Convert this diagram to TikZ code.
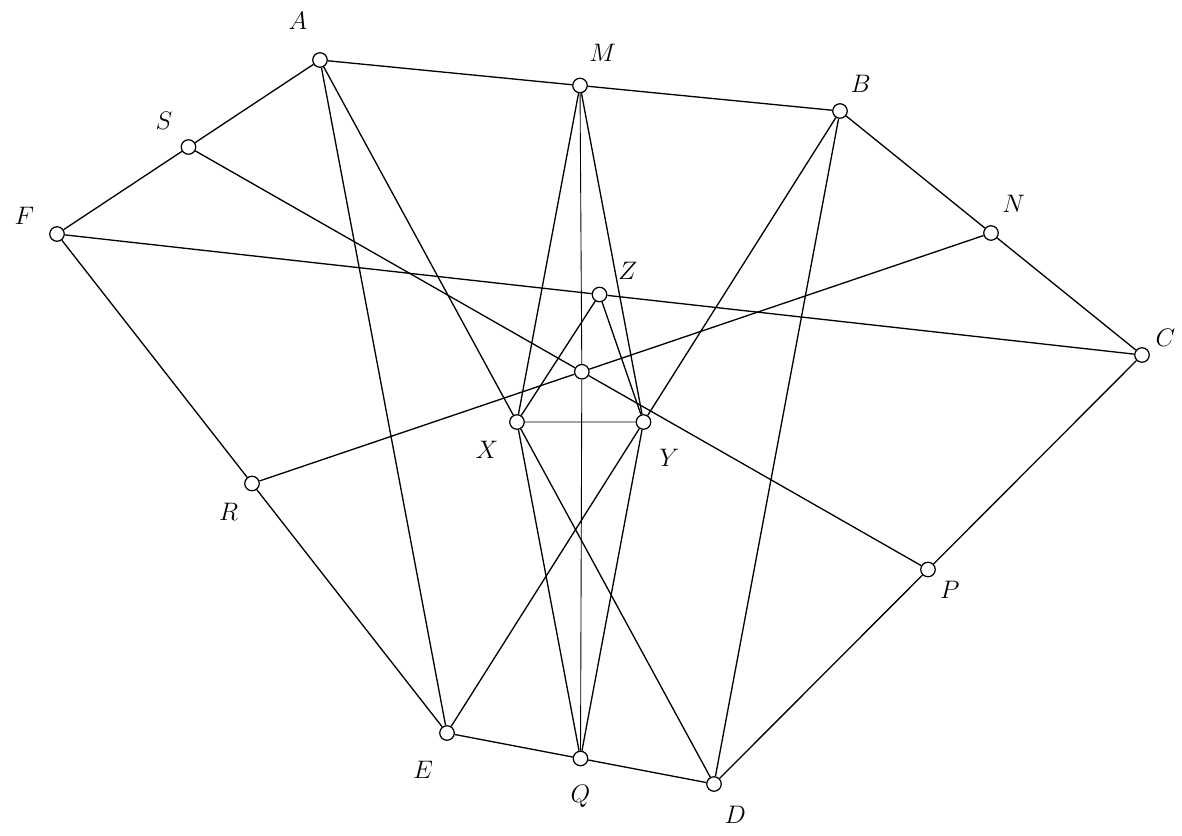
\documentclass[tikz,border=0pt]{standalone}
\usepackage{amsmath}
\usepackage{tikz}
\usetikzlibrary{calc,positioning}
\tikzstyle{ponto} = [circle, draw=black, fill=white, line width=0.7pt, minimum size=0.29cm, inner sep=0pt, label distance=0.12cm]
\tikzstyle{linha} = [line width=0.75pt]
\tikzstyle{fina} = [line width=0.5pt]

\begin{document}
\begin{tikzpicture}[font=\Large]
        \useasboundingbox (0,0) rectangle (23.64,-16.7);
        % Vertices
        \node (A) [ponto, label={[label distance=0.35cm]105:$A$}] at (6.40,-1.20) {};
        \node (B) [ponto, label={[label distance=0.1cm]70:$B$}] at (16.80,-2.22) {};
        \node (C) [ponto, label={20:$C$}] at (22.84,-7.10) {};
        \node (D) [ponto, label={[label distance=0.18cm]-75:$D$}] at (14.28,-15.68) {};
        \node (E) [ponto, label={[label distance=0.3cm]-110:$E$}] at (8.94,-14.66) {};
        \node (F) [ponto, label={[label distance=0.18cm]170:$F$}] at (1.14,-4.68) {};

        % Pontos medios
        \node (M) [ponto, label={[label distance=0.2cm]80:$M$}] at ($(A)!0.5!(B)$) {};
        \node (N) [ponto, label={[label distance=0.15cm]70:$N$}] at ($(B)!0.5!(C)$) {};
        \node (P) [ponto, label={-40:$P$}] at ($(C)!0.5!(D)$) {};
        \node (Q) [ponto, label={[label distance=0.25cm]-90:$Q$}] at ($(D)!0.5!(E)$) {};
        \node (R) [ponto, label={[label distance=0.15cm]-120:$R$}] at ($(E)!0.5!(F)$) {};
        \node (S) [ponto, label={[label distance=0.15cm]130:$S$}] at ($(F)!0.5!(A)$) {};
        \node (X) [ponto, label={[label distance=0.2cm]-135:$X$}] at ($(A)!0.5!(D)$) {};
        \node (Y) [ponto, label={[label distance=0.3cm]-65:$Y$}] at ($(B)!0.5!(E)$) {};
        \node (Z) [ponto, label={[label distance=0.15cm]35:$Z$}] at ($(F)!0.5!(C)$) {};
        \node (O) [ponto] at (intersection of S--P and R--N) {};

        % Linhas
        \draw [linha] (A) -- (M) -- (B) -- (N) -- (C) -- (P) -- (D) -- (Q) -- (E) -- (R) -- (F) -- (S) -- (A);
        \draw [linha] (A) -- (E);
        \draw [linha] (B) -- (D);
        \draw [linha] (A) -- (X) -- (D);
        \draw [linha] (B) -- (Y) -- (E);
        \draw [linha] (F) -- (Z) -- (C);
        \draw [linha] (S) -- (O) -- (P);
        \draw [linha] (R) -- (O) -- (N);
        \draw [linha] (M) -- (X) -- (Q);
        \draw [linha] (M) -- (Y) -- (Q);
        \draw [linha] (X) -- (Z) -- (Y);
        \draw [fina] (X) -- (Y);
        \draw [fina] (M) -- (O) -- (Q);
    \end{tikzpicture}
\end{document}
